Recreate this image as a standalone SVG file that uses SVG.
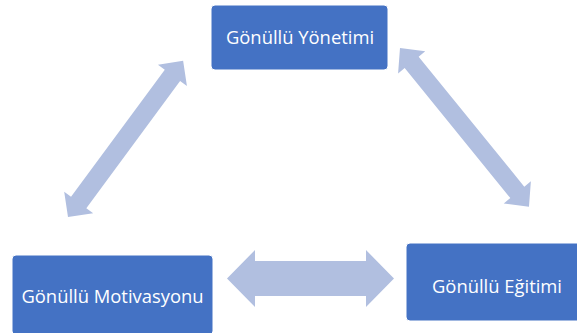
<svg xmlns="http://www.w3.org/2000/svg" width="577" height="333" viewBox="0 0 577 333">
<style>
.box{fill:#4472C4;stroke:#FFFFFF;stroke-width:1}
.lbl{fill:#FFFFFF;font-family:"Open Sans","Liberation Sans",sans-serif;font-size:18.4px;text-anchor:middle}
.arr{fill:#B1BFE0}
</style>
<rect width="577" height="333" fill="#FFFFFF"/>
<g id="connectors">
<polygon class="arr" points="227,278.5 255,250 255,261 366,261 366,250 394,278.5 366,307 366,296 255,296 255,307"/>
<polygon class="arr" transform="translate(68,217) rotate(-53.6)" points="0,0 18,-18 18,-9.5 176,-9.5 176,-18 194,0 176,18 176,9.5 18,9.5 18,18"/>
<polygon class="arr" transform="translate(400,48) rotate(50.9)" points="0,0 18.5,-17.5 18.5,-9 186,-9 186,-17.5 204.5,0 186,17.5 186,9 18.5,9 18.5,17.5"/>
</g>
<g id="node-yonetimi">
<rect class="box" x="211" y="5" width="177" height="65" rx="4"/>
<text class="lbl" x="300" y="44">Gönüllü Yönetimi</text>
</g>
<g id="node-motivasyonu">
<rect class="box" x="12" y="255" width="201" height="80" rx="4"/>
<text class="lbl" x="112.5" y="303">Gönüllü Motivasyonu</text>
</g>
<g id="node-egitimi">
<rect class="box" x="406" y="243" width="180" height="78" rx="4"/>
<text class="lbl" x="497" y="293">Gönüllü Eğitimi</text>
</g>
</svg>
